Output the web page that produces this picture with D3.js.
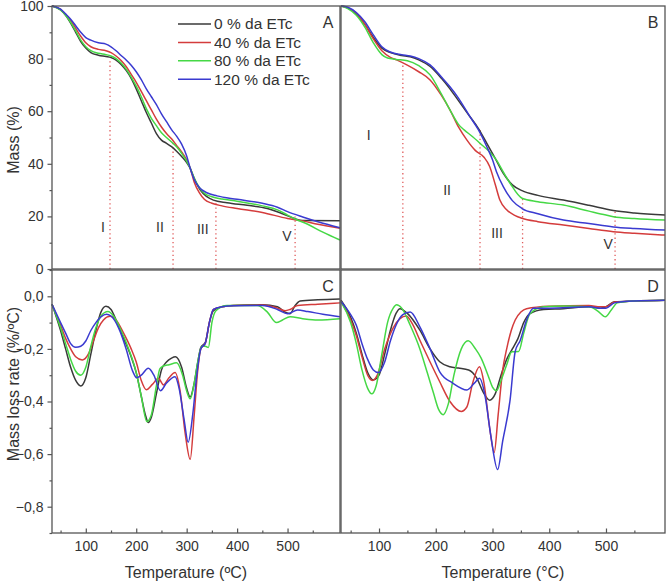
<!DOCTYPE html>
<html>
<head>
<meta charset="utf-8">
<script src="https://cdn.jsdelivr.net/npm/d3@7"></script>
<style>
  body { margin: 0; background: #fff; }
  text { font-family: "Liberation Sans", Arial, sans-serif; fill: #333; opacity: 0.995; }
</style>
</head>
<body>
<div id="container"></div>
<script>
// series names
const series = ["0 % da ETc", "40 % da ETc", "80 % da ETc", "120 % da ETc"];
const colors = ["#3a3a3a", "#d43c3c", "#45d845", "#3a3ad0"];

// TG curves, panel A  [temperature, mass %]
const tgA_0 = [[33,100],[50,98.5],[60,96.5],[70,93.5],[80,90],[90,86.5],[100,84],[110,82.3],[125,81.3],[140,80.8],[150,80.4],[160,79.4],[170,77.8],[180,75.5],[190,72.5],[200,68.5],[210,64],[220,59.5],[230,55.5],[240,51.5],[250,49],[260,47.8],[270,46.5],[280,44.8],[290,42.8],[300,40.5],[307,38.3],[315,34.5],[327,30],[340,27.5],[353,26.2],[380,25.2],[420,24.2],[460,23],[490,21],[512,19.3],[530,18.4],[604,18.3]];
const tgA_40 = [[33,100],[50,98.7],[60,96.8],[70,94.5],[80,91.5],[90,88.5],[100,86],[110,84.5],[125,83.5],[140,83],[150,82.3],[160,81],[170,79.3],[180,77],[190,74],[200,71],[210,67.5],[220,64],[230,60.5],[240,57],[250,54],[260,51.5],[270,49.5],[280,47],[290,44.5],[300,41.5],[307,38.3],[315,33],[325,29],[335,26.5],[350,25],[370,24],[400,23],[450,21.5],[500,19.2],[530,18.3],[560,17],[604,15.5]];
const tgA_80 = [[33,100],[50,98.5],[60,96.5],[70,93.8],[80,90.5],[90,87],[100,84.5],[110,83],[125,82],[140,81.5],[150,81],[160,80],[170,78.3],[180,76],[190,73],[200,69.5],[210,65.5],[220,61],[230,57.3],[240,54.5],[250,51.8],[260,50],[270,48.3],[280,46.5],[290,44],[300,41],[307,38.3],[315,34.5],[325,31],[335,28.8],[350,27.5],[370,26.6],[400,25.8],[450,24],[480,22.5],[500,20.5],[512,19.3],[540,17],[570,14],[604,11]];
const tgA_120 = [[33,100],[50,98.8],[60,97],[70,95],[80,92.5],[90,90],[100,88],[110,87],[125,86],[140,85.5],[150,84.5],[160,83],[170,81.2],[180,79.5],[190,77.5],[200,75],[210,72],[220,68.5],[230,65.5],[240,62.5],[250,59],[260,56],[270,53],[280,50.5],[290,47.5],[300,43],[307,38.3],[315,34],[325,31],[340,29],[360,27.8],[400,26.5],[450,25],[480,23.5],[500,21.8],[530,19.8],[560,18],[604,15.7]];

// TG curves, panel B
const tgB_0 = [[33,100],[45,99.3],[60,97],[75,93],[90,88],[105,84],[120,82.3],[140,81.2],[155,80.7],[170,79.5],[190,77],[210,72.5],[225,68.5],[240,64],[260,58],[275,53.5],[290,47.8],[305,42],[319,36.4],[335,32],[352,29.8],[380,28],[425,26.2],[470,24.2],[513,22.2],[550,21.3],[604,20.5]];
const tgB_40 = [[33,100],[45,99.3],[60,97.3],[75,93],[90,87.5],[105,83],[120,80.5],[131,79.5],[149,77.6],[170,75],[190,71.9],[210,66],[225,60.5],[240,54],[255,49],[270,45],[285,42.5],[295,39],[305,32],[313,26.2],[325,22.5],[340,20.3],[352,19.3],[380,18],[425,16.7],[470,15.4],[513,14.2],[550,13.6],[604,12.9]];
const tgB_80 = [[33,100],[45,99],[60,96.5],[75,92],[90,86],[105,81.5],[115,80.2],[130,79.7],[150,79.2],[170,77.3],[190,73.8],[210,66.5],[225,60.5],[240,55],[250,52.9],[265,50.3],[278,47.8],[295,44.5],[307,41.4],[320,36.5],[331,32.6],[352,26.9],[380,25.6],[425,24.3],[470,22],[500,20.5],[513,19.9],[550,19.2],[604,18.6]];
const tgB_120 = [[33,100],[45,99.5],[60,97.5],[75,94],[90,89],[105,84.5],[120,82.5],[140,81.5],[155,81],[170,80],[190,77.6],[210,73],[225,69.3],[240,65],[260,58],[275,53],[290,46.5],[300,41.5],[307,37],[319,31.3],[335,26],[352,23],[380,21],[425,18.6],[470,17.3],[513,16],[550,15.4],[604,14.8]];

// DTG curves, panel C  [temperature, %/ºC]
const dtgC_0 = [[33,-0.03],[50,-0.13],[60,-0.2],[70,-0.27],[80,-0.32],[90,-0.341],[100,-0.31],[110,-0.22],[120,-0.13],[130,-0.06],[140,-0.038],[150,-0.05],[160,-0.09],[175,-0.16],[190,-0.23],[200,-0.29],[210,-0.38],[218,-0.45],[224,-0.48],[230,-0.46],[240,-0.37],[250,-0.28],[260,-0.25],[270,-0.235],[278,-0.23],[290,-0.27],[300,-0.35],[307,-0.383],[315,-0.33],[322,-0.25],[328,-0.195],[337,-0.175],[345,-0.1],[353,-0.055],[370,-0.04],[393,-0.035],[450,-0.032],[480,-0.04],[495,-0.06],[505,-0.066],[515,-0.035],[525,-0.018],[560,-0.013],[604,-0.01]];
const dtgC_40 = [[33,-0.03],[50,-0.11],[60,-0.16],[70,-0.2],[80,-0.23],[93,-0.242],[105,-0.22],[115,-0.17],[125,-0.12],[135,-0.09],[148,-0.076],[160,-0.09],[175,-0.14],[190,-0.2],[200,-0.25],[210,-0.32],[220,-0.355],[232,-0.335],[244,-0.312],[254,-0.337],[265,-0.31],[277,-0.29],[287,-0.36],[297,-0.52],[307,-0.62],[315,-0.45],[322,-0.28],[328,-0.2],[337,-0.178],[345,-0.1],[353,-0.05],[370,-0.04],[393,-0.035],[450,-0.033],[480,-0.045],[495,-0.055],[505,-0.05],[520,-0.035],[560,-0.03],[604,-0.025]];
const dtgC_80 = [[33,-0.03],[50,-0.12],[60,-0.18],[70,-0.24],[80,-0.285],[90,-0.3],[100,-0.27],[110,-0.19],[120,-0.12],[130,-0.075],[144,-0.058],[155,-0.075],[170,-0.13],[185,-0.2],[200,-0.29],[210,-0.38],[221,-0.476],[230,-0.45],[240,-0.34],[247,-0.275],[254,-0.265],[265,-0.26],[280,-0.253],[292,-0.3],[300,-0.36],[307,-0.39],[315,-0.33],[322,-0.25],[330,-0.19],[337,-0.19],[343,-0.195],[350,-0.1],[358,-0.055],[380,-0.035],[440,-0.035],[460,-0.06],[478,-0.1],[490,-0.09],[505,-0.078],[530,-0.085],[560,-0.09],[604,-0.085]];
const dtgC_120 = [[33,-0.03],[50,-0.1],[60,-0.14],[70,-0.18],[80,-0.194],[90,-0.19],[100,-0.17],[110,-0.13],[120,-0.1],[130,-0.078],[141,-0.068],[150,-0.075],[165,-0.12],[180,-0.2],[192,-0.28],[201,-0.31],[210,-0.3],[224,-0.274],[235,-0.3],[248,-0.359],[260,-0.33],[277,-0.306],[285,-0.35],[295,-0.47],[303,-0.555],[312,-0.45],[320,-0.3],[328,-0.2],[337,-0.178],[345,-0.1],[353,-0.05],[370,-0.04],[393,-0.036],[450,-0.035],[480,-0.05],[500,-0.066],[520,-0.052],[540,-0.058],[570,-0.068],[604,-0.078]];

// DTG curves, panel D
const dtgD_0 = [[33,-0.015],[50,-0.08],[60,-0.14],[70,-0.22],[80,-0.29],[90,-0.318],[100,-0.3],[110,-0.22],[120,-0.13],[130,-0.065],[137,-0.047],[150,-0.065],[172,-0.129],[190,-0.2],[207,-0.249],[225,-0.268],[240,-0.273],[258,-0.28],[272,-0.31],[285,-0.37],[295,-0.395],[305,-0.37],[315,-0.3],[325,-0.24],[335,-0.2],[345,-0.16],[355,-0.1],[366,-0.066],[390,-0.05],[425,-0.047],[470,-0.04],[490,-0.045],[500,-0.04],[515,-0.021],[550,-0.018],[604,-0.015]];
const dtgD_40 = [[33,-0.02],[50,-0.09],[60,-0.15],[70,-0.23],[80,-0.3],[88,-0.32],[97,-0.3],[110,-0.2],[125,-0.12],[137,-0.085],[148,-0.075],[160,-0.11],[172,-0.167],[190,-0.25],[207,-0.325],[225,-0.4],[245,-0.438],[255,-0.42],[265,-0.33],[277,-0.268],[285,-0.33],[295,-0.5],[303,-0.594],[310,-0.45],[318,-0.28],[325,-0.2],[333,-0.13],[340,-0.09],[350,-0.06],[360,-0.047],[400,-0.038],[470,-0.035],[490,-0.04],[500,-0.04],[515,-0.022],[550,-0.018],[604,-0.015]];
const dtgD_80 = [[33,-0.02],[50,-0.1],[60,-0.18],[70,-0.28],[80,-0.35],[87,-0.371],[95,-0.34],[105,-0.22],[115,-0.1],[125,-0.045],[131,-0.032],[140,-0.045],[155,-0.11],[172,-0.2],[185,-0.29],[196,-0.368],[205,-0.43],[213,-0.45],[222,-0.41],[232,-0.3],[245,-0.2],[257,-0.169],[270,-0.2],[280,-0.235],[292,-0.3],[300,-0.345],[307,-0.359],[315,-0.32],[325,-0.26],[334,-0.211],[346,-0.21],[355,-0.14],[366,-0.066],[390,-0.04],[425,-0.037],[470,-0.04],[485,-0.055],[499,-0.078],[510,-0.05],[520,-0.025],[550,-0.018],[604,-0.015]];
const dtgD_120 = [[33,-0.02],[50,-0.07],[60,-0.11],[70,-0.18],[80,-0.24],[90,-0.28],[99,-0.29],[110,-0.25],[120,-0.17],[130,-0.11],[142,-0.07],[155,-0.06],[172,-0.116],[190,-0.2],[207,-0.287],[230,-0.33],[255,-0.356],[268,-0.33],[277,-0.312],[287,-0.38],[297,-0.53],[309,-0.659],[318,-0.55],[331,-0.394],[340,-0.21],[349,-0.167],[360,-0.09],[372,-0.045],[400,-0.045],[470,-0.04],[490,-0.045],[500,-0.045],[515,-0.025],[550,-0.018],[604,-0.015]];

// stage boundaries (dotted red lines) [temperature, mass at top]
const stagesA = [[148,79.5],[273,48],[358,25],[515,20]];
const stagesB = [[142,77.8],[278,53],[353,27.6],[516,21.9]];
// stage labels [text, temperature, mass]
const labelsA = [["I",134,15.8],["II",247,15.8],["III",332,15],["V",499,12.4]];
const labelsB = [["I",82,51],["II",220,30],["III",308,13.5],["V",504,9.3]];

const massTicks = [0,20,40,60,80,100];
const massMinor = [10,30,50,70,90];
const rateTicks = [0,-0.2,-0.4,-0.6,-0.8];
const rateMinor = [0.1,-0.1,-0.3,-0.5,-0.7,-0.9];
const tempTicks = [100,200,300,400,500];
const tempMinor = [50,150,250,350,450,550];

const width = 666, height = 583;

const svg = d3.create("svg")
    .attr("width", width)
    .attr("height", height);

const xL = d3.scaleLinear().domain([33, 604]).range([52, 340]);
const xR = d3.scaleLinear().domain([33, 604]).range([341, 665]);
const yTG = d3.scaleLinear().domain([0, 100]).range([269, 6]);
const yD = d3.scaleLinear().domain([-0.9, 0.1]).range([533, 270]);

const fmtRate = d => d3.format(".1f")(d).replace(".", ",");

function panel(x, y, curves, letter, stages, labels) {
    const g = svg.append("g");
    const line = d3.line()
        .x(d => x(d[0]))
        .y(d => y(d[1]))
        .curve(d3.curveMonotoneX);

    if (stages) {
        g.selectAll(".stage").data(stages).join("line")
            .attr("x1", d => x(d[0])).attr("x2", d => x(d[0]))
            .attr("y1", y(0)).attr("y2", d => y(d[1]))
            .attr("stroke", "#e05a5a")
            .attr("stroke-width", 1.3)
            .attr("stroke-dasharray", "1.3,3");
        g.selectAll(".lab").data(labels).join("text")
            .attr("x", d => x(d[1])).attr("y", d => y(d[2]))
            .attr("text-anchor", "middle").attr("dy", "0.35em")
            .attr("font-size", 14)
            .text(d => d[0]);
    }

    curves.forEach((c, i) => {
        g.append("path")
            .datum(c)
            .attr("fill", "none")
            .attr("stroke", colors[i])
            .attr("stroke-width", 1.5)
            .attr("d", line);
    });

    const [x0, x1] = x.range();
    const [y1, y0] = y.range();
    g.append("rect")
        .attr("x", x0).attr("y", y0)
        .attr("width", x1 - x0).attr("height", y1 - y0)
        .attr("fill", "none")
        .attr("stroke", "#555")
        .attr("stroke-width", 1.3);

    g.append("text")
        .attr("x", x1 - 12).attr("y", y0 + 16)
        .attr("text-anchor", "middle").attr("dy", "0.35em")
        .attr("font-size", 16)
        .text(letter);
}

panel(xL, yTG, [tgA_0, tgA_40, tgA_80, tgA_120], "A", stagesA, labelsA);
panel(xR, yTG, [tgB_0, tgB_40, tgB_80, tgB_120], "B", stagesB, labelsB);
panel(xL, yD, [dtgC_0, dtgC_40, dtgC_80, dtgC_120], "C");
panel(xR, yD, [dtgD_0, dtgD_40, dtgD_80, dtgD_120], "D");

// y axes
function yAxis(y, major, minor, fmt) {
    const g = svg.append("g").attr("transform", "translate(52,0)");
    g.append("g").call(d3.axisLeft(y).tickValues(minor).tickSize(2.5).tickFormat(""));
    g.append("g").call(d3.axisLeft(y).tickValues(major).tickSize(4.5).tickPadding(4).tickFormat(fmt));
    g.selectAll(".domain").remove();
    g.selectAll("line").attr("stroke", "#555").attr("stroke-width", 1.2);
    g.selectAll("text").attr("font-size", 14).attr("fill", "#333")
        .style("font-family", "'Liberation Sans', Arial, sans-serif");
}
yAxis(yTG, massTicks, massMinor, d3.format("d"));
yAxis(yD, rateTicks, rateMinor, fmtRate);

// x axes (bottom row)
function xAxis(x) {
    const g = svg.append("g").attr("transform", "translate(0,533)");
    g.append("g").call(d3.axisBottom(x).tickValues(tempMinor).tickSize(-2.5).tickFormat(""));
    g.append("g").call(d3.axisBottom(x).tickValues(tempTicks).tickSize(-4.5).tickPadding(8).tickFormat(d3.format("d")));
    g.selectAll(".domain").remove();
    g.selectAll("line").attr("stroke", "#555").attr("stroke-width", 1.2);
    g.selectAll("text").attr("font-size", 14).attr("fill", "#333")
        .style("font-family", "'Liberation Sans', Arial, sans-serif");
}
xAxis(xL);
xAxis(xR);

// axis titles
svg.append("text")
    .attr("transform", "translate(13,140) rotate(-90)")
    .attr("text-anchor", "middle").attr("dy", "0.35em")
    .attr("font-size", 16).text("Mass (%)");
svg.append("text")
    .attr("transform", "translate(13,384) rotate(-90)")
    .attr("text-anchor", "middle").attr("dy", "0.35em")
    .attr("font-size", 16).text("Mass loss rate (%/ºC)");
svg.append("text")
    .attr("x", 186).attr("y", 572)
    .attr("text-anchor", "middle").attr("dy", "0.35em")
    .attr("font-size", 16).text("Temperature (ºC)");
svg.append("text")
    .attr("x", 503).attr("y", 572)
    .attr("text-anchor", "middle").attr("dy", "0.35em")
    .attr("font-size", 16).text("Temperature (°C)");

// legend
const legend = svg.append("g");
series.forEach((s, i) => {
    const yy = 24 + i * 18.4;
    legend.append("line")
        .attr("x1", 178).attr("x2", 211)
        .attr("y1", yy).attr("y2", yy)
        .attr("stroke", colors[i]).attr("stroke-width", 1.5);
    legend.append("text")
        .attr("x", 214).attr("y", yy).attr("dy", "0.35em")
        .attr("font-size", 15.5).text(s);
});

container.append(svg.node());
</script>
</body>
</html>
